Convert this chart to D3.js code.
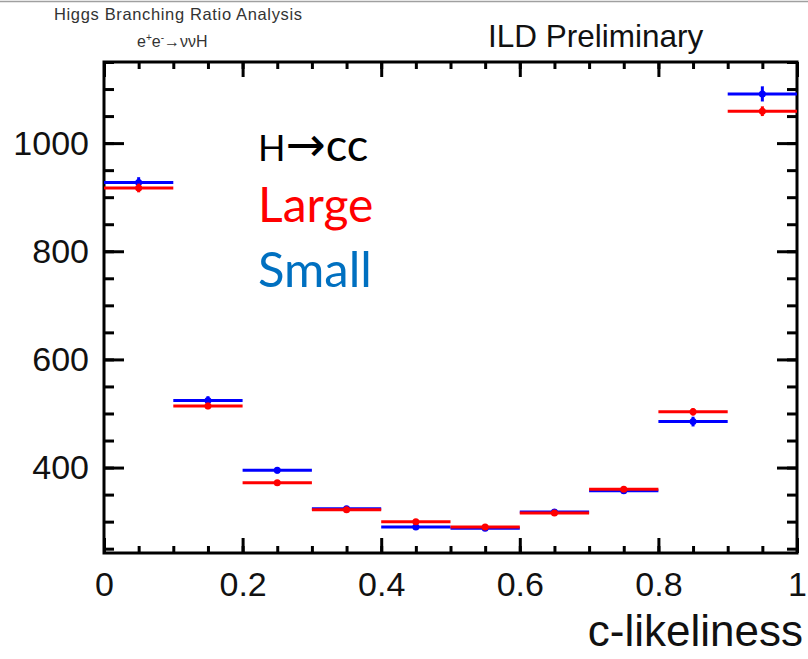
<!DOCTYPE html>
<html>
<head>
<meta charset="utf-8">
<script src="https://cdn.jsdelivr.net/npm/d3@7"></script>
<style>
  body { margin: 0; background: #fff; }
  svg { display: block; }
</style>
</head>
<body>
<div id="chart"></div>
<script>
// bins of c-likeliness (lower edges), width 0.1
const binLow = [0, 0.1, 0.2, 0.3, 0.4, 0.5, 0.6, 0.7, 0.8, 0.9];
const binWidth = 0.1;
// "Large" (red) and "Small" (blue) entries per bin
const largeVals = [917, 514, 372, 322, 300, 290, 316, 360, 503, 1059];
const largeErr = [8, 6, 5, 4, 4, 4, 4, 5, 7, 9];
const smallVals = [927, 524, 395, 324, 290, 288, 318, 357, 485, 1091];
const smallErr = [10, 8, 6, 5, 5, 5, 5, 5, 9, 14];

const xMajorTicks = [0, 0.2, 0.4, 0.6, 0.8, 1];
const xMinorTicks = d3.range(0, 21).map(i => i * 0.05);
const yMajorTicks = [400, 600, 800, 1000];
const yMinorTicks = d3.range(250, 1151, 50);

const width = 808, height = 659;
const margin = { left: 104, right: 11, top: 62, bottom: 106 };
const w = width - margin.left - margin.right;
const h = height - margin.top - margin.bottom;

const svg = d3.select('#chart').append('svg')
  .attr('width', width)
  .attr('height', height);

// thin grey line at very top of the slide
svg.append('line')
  .attr('x1', 0).attr('x2', width)
  .attr('y1', 1.5).attr('y2', 1.5)
  .attr('stroke', '#a0a0a0')
  .attr('stroke-width', 1.5);

svg.append('text')
  .attr('x', 54).attr('y', 20)
  .attr('font-family', 'Liberation Sans, Arial, sans-serif')
  .attr('font-size', 16.5)
  .attr('textLength', 248)
  .attr('fill', '#333')
  .text('Higgs Branching Ratio Analysis');

const proc = svg.append('text')
  .attr('x', 137).attr('y', 47)
  .attr('font-family', 'Liberation Sans, Arial, sans-serif')
  .attr('font-size', 16)
  .attr('fill', '#333');
proc.append('tspan').text('e');
proc.append('tspan').attr('font-size', 10).attr('dy', -6).text('+');
proc.append('tspan').attr('dy', 6).text('e');
proc.append('tspan').attr('font-size', 10).attr('dy', -6).text('-');
proc.append('tspan').attr('dy', 6).text('\u2192\u03bd\u03bdH');

svg.append('text')
  .attr('x', 488).attr('y', 47)
  .attr('font-family', 'Liberation Sans, Arial, sans-serif')
  .attr('font-size', 31.5)
  .attr('fill', '#111')
  .text('ILD Preliminary');

const g = svg.append('g')
  .attr('transform', 'translate(' + margin.left + ',' + margin.top + ')');

const x = d3.scaleLinear().domain([0, 1]).range([0, w]);
const y = d3.scaleLinear().domain([242, 1150]).range([h, 0]);

const axisFont = 'Liberation Sans, Arial, sans-serif';

function styleAxis(sel) {
  sel.select('.domain').remove();
  sel.selectAll('.tick line').attr('stroke', '#000').attr('stroke-width', 3);
  sel.selectAll('.tick text')
    .attr('font-family', axisFont)
    .attr('font-size', 34)
    .attr('fill', '#111');
}

// minor ticks
g.append('g')
  .attr('transform', 'translate(0,' + h + ')')
  .call(d3.axisBottom(x).tickValues(xMinorTicks).tickSize(-7).tickFormat(''))
  .call(styleAxis);
g.append('g')
  .call(d3.axisTop(x).tickValues(xMinorTicks).tickSize(-7).tickFormat(''))
  .call(styleAxis);
g.append('g')
  .call(d3.axisLeft(y).tickValues(yMinorTicks).tickSize(-10).tickFormat(''))
  .call(styleAxis);
g.append('g')
  .attr('transform', 'translate(' + w + ',0)')
  .call(d3.axisRight(y).tickValues(yMinorTicks).tickSize(-10).tickFormat(''))
  .call(styleAxis);

// major ticks with labels
g.append('g')
  .attr('transform', 'translate(0,' + h + ')')
  .call(d3.axisBottom(x).tickValues(xMajorTicks).tickSize(-15).tickPadding(19)
    .tickFormat(d => d3.format('')(d)))
  .call(styleAxis);
g.append('g')
  .call(d3.axisTop(x).tickValues(xMajorTicks).tickSize(-15).tickFormat(''))
  .call(styleAxis);
g.append('g')
  .call(d3.axisLeft(y).tickValues(yMajorTicks).tickSize(-20).tickPadding(15)
    .tickFormat(d3.format('d')))
  .call(styleAxis);
g.append('g')
  .attr('transform', 'translate(' + w + ',0)')
  .call(d3.axisRight(y).tickValues(yMajorTicks).tickSize(-20).tickFormat(''))
  .call(styleAxis);

// frame
g.append('rect')
  .attr('x', 0).attr('y', 0)
  .attr('width', w).attr('height', h)
  .attr('fill', 'none')
  .attr('stroke', '#000')
  .attr('stroke-width', 3);

svg.append('text')
  .attr('x', 803).attr('y', 646)
  .attr('text-anchor', 'end')
  .attr('font-family', axisFont)
  .attr('font-size', 44)
  .attr('fill', '#111')
  .text('c-likeliness');

// histogram points with error bars
function drawSeries(vals, errs, color, cls) {
  const data = binLow.map((lo, i) => ({ lo: lo, v: vals[i], e: errs[i] }));
  const s = g.append('g').attr('class', cls);
  s.selectAll('line.hbar')
    .data(data).enter().append('line')
    .attr('class', 'hbar')
    .attr('x1', d => x(d.lo))
    .attr('x2', d => x(d.lo + binWidth))
    .attr('y1', d => y(d.v))
    .attr('y2', d => y(d.v))
    .attr('stroke', color)
    .attr('stroke-width', 3);
  s.selectAll('line.vbar')
    .data(data).enter().append('line')
    .attr('class', 'vbar')
    .attr('x1', d => x(d.lo + binWidth / 2))
    .attr('x2', d => x(d.lo + binWidth / 2))
    .attr('y1', d => y(d.v - d.e))
    .attr('y2', d => y(d.v + d.e))
    .attr('stroke', color)
    .attr('stroke-width', 3);
  s.selectAll('circle')
    .data(data).enter().append('circle')
    .attr('cx', d => x(d.lo + binWidth / 2))
    .attr('cy', d => y(d.v))
    .attr('r', 3.5)
    .attr('fill', color);
}

drawSeries(smallVals, smallErr, '#0000ff', 'small');
drawSeries(largeVals, largeErr, '#ff0000', 'large');

// legend text
const legFont = 'Lato, Open Sans, sans-serif';
const t1 = svg.append('text')
  .attr('x', 258).attr('y', 161)
  .attr('font-family', legFont)
  .attr('fill', '#000');
t1.append('tspan').attr('font-size', 36).text('H');
t1.append('tspan').attr('font-size', 48).attr('font-family', 'DejaVu Sans').text('\u2192');
t1.append('tspan').attr('font-size', 45).text('cc');

svg.append('text')
  .attr('x', 258).attr('y', 222)
  .attr('font-family', legFont)
  .attr('font-size', 48)
  .attr('fill', '#ff0000')
  .text('Large');

svg.append('text')
  .attr('x', 258).attr('y', 287)
  .attr('font-family', legFont)
  .attr('font-size', 49)
  .attr('fill', '#0070c0')
  .text('Small');
</script>
</body>
</html>
